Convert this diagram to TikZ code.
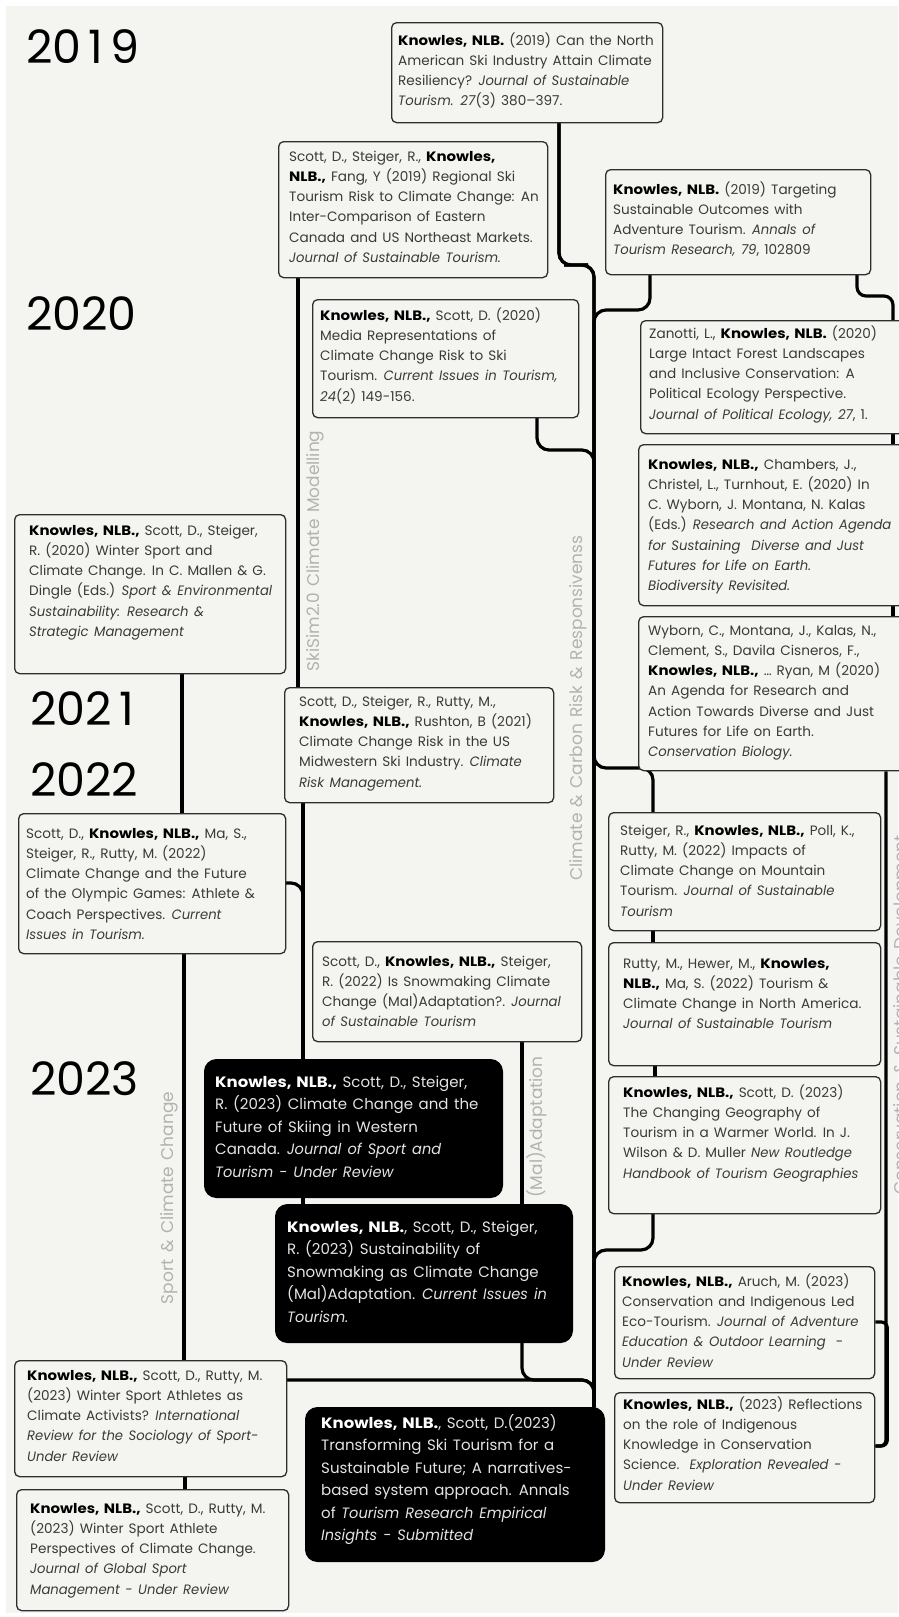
\documentclass[tikz,border=0pt]{standalone}
\usepackage{fontspec}
\setmainfont{Poppins}[WordSpace=1.4, BoldFeatures={FakeStretch=1.1}, ItalicFeatures={FakeStretch=0.97}]
\usetikzlibrary{calc}
\definecolor{bgc}{HTML}{F4F4F0}
\definecolor{boxdraw}{HTML}{2E2E2E}
\definecolor{txt}{HTML}{3A3A3A}
\definecolor{btxt}{HTML}{E4E4E4}
\definecolor{lab}{HTML}{B2B2B2}
\pgfdeclarelayer{back}
\pgfsetlayers{back,main}
\newcommand\kb[1]{\textbf{\color{black}#1}}
\newcommand\kw[1]{\textbf{\color{white}#1}}
\newcommand\yone{\makebox[\fontcharwd\font`0][c]{1}}
\tikzset{
  wbox/.style={draw=boxdraw, line width=1.3pt, fill=bgc, rounded corners=5pt, inner sep=0pt, anchor=north west},
  bbox/.style={draw=black, line width=1pt, fill=black, rounded corners=12pt, inner sep=0pt, anchor=north west},
  wtext/.style={anchor=base west, inner sep=0pt, text=txt, font=\fontsize{13.6}{20.3}\selectfont},
  btext/.style={anchor=base west, inner sep=0pt, text=btxt, font=\fontsize{15}{22.5}\selectfont},
  conn/.style={line width=3.2pt, line cap=round, rounded corners=12pt},
  connr/.style={line width=3.2pt, rounded corners=6pt},
  yearlab/.style={anchor=base west, inner sep=0pt, text=black, font=\fontsize{46}{46}\selectfont},
  topic/.style={rotate=90, text=lab, inner sep=0pt, font=\fontsize{17}{18}\selectfont},
}
\newcommand\wpub[8]{%
  \pgfmathsetmacro\pw{#4-#2}\pgfmathsetmacro\ph{#5-#3}%
  \node[wbox, minimum width=\pw pt, minimum height=\ph pt] (#1) at (#2,#3) {};
  \node[wtext] (#1t) at (#6,#7) {\parbox[t]{300pt}{\raggedright #8}};
}
\newcommand\bpub[8]{%
  \pgfmathsetmacro\pw{#4-#2}\pgfmathsetmacro\ph{#5-#3}%
  \node[bbox, minimum width=\pw pt, minimum height=\ph pt] (#1) at (#2,#3) {};
  \node[btext] (#1t) at (#6,#7) {\parbox[t]{320pt}{\raggedright #8}};
}
\begin{document}
\begin{tikzpicture}[x=1pt,y=-1pt]
\useasboundingbox (0,0) rectangle (898,1617);

% years
\node[yearlab] (y2019) at (26,63) {20\yone9};
\node[yearlab] (y2020) at (26,330) {2020};
\node[yearlab] (y2021) at (30,725) {202\yone};
\node[yearlab] (y2022) at (30,796) {2022};
\node[yearlab] (y2023) at (30,1095) {2023};

% topic labels
\node[topic] (lab1) at (315,551) {SkiSim2.0 Climate Modelling};
\node[topic] (lab2) at (578,708) {Climate \& Carbon Risk \& Responsivenss};
\node[topic] (lab3) at (537,1127) {(Mal)Adaptation};
\node[topic] (lab4) at (169,1198) {Sport \& Climate Change};
\node[topic] (lab5) at (902,1015) {Conservation \& Sustainable Development};

% publications
\wpub{A}{391}{22}{662}{122}{398}{45}{\kb{Knowles, NLB.} (2019) Can the North\\American Ski Industry Attain Climate\\Resiliency? \textit{Journal of Sustainable}\\\textit{Tourism. 27}(3) 380–397.}
\wpub{B}{278}{141}{547}{277}{289}{161}{Scott, D., Steiger, R.,\ \kb{Knowles,}\\\kb{NLB.,} Fang, Y (2019) Regional Ski\\Tourism Risk to Climate Change: An\\Inter-Comparison of Eastern\\Canada and US Northeast Markets.\\\textit{Journal of Sustainable Tourism.}}
\wpub{C}{605}{169}{870}{274}{613}{194}{\kb{Knowles, NLB.} (2019) Targeting\\Sustainable Outcomes with\\Adventure Tourism. \textit{Annals of}\\\textit{Tourism Research, 79}, 102809}
\wpub{D}{312}{299}{578}{417}{320}{320}{\kb{Knowles, NLB.,} Scott, D. (2020)\\Media Representations of\\Climate Change Risk to Ski\\Tourism. \textit{Current Issues in Tourism,}\\\textit{24}(2) 149-156.}
\wpub{E}{640}{320}{906}{433}{649}{338}{Zanotti, L., \kb{Knowles, NLB.} (2020)\\Large Intact Forest Landscapes\\and Inclusive Conservation: A\\Political Ecology Perspective.\\\textit{Journal of Political Ecology, 27}, 1.}
\wpub{F}{638}{444}{906}{605}{648}{469}{\kb{Knowles, NLB.,} Chambers, J.,\\Christel, L., Turnhout, E. (2020) In\\C. Wyborn, J. Montana, N. Kalas\\(Eds.) \textit{Research and Action Agenda}\\\textit{for Sustaining\ \ Diverse and Just}\\\textit{Futures for Life on Earth.}\\\textit{Biodiversity Revisited.}}
\wpub{G}{638}{616}{906}{770}{648}{635}{Wyborn, C., Montana, J., Kalas, N.,\\Clement, S., Davila Cisneros, F.,\\\kb{Knowles, NLB.,} … Ryan, M (2020)\\An Agenda for Research and\\Action Towards Diverse and Just\\Futures for Life on Earth.\\\textit{Conservation Biology.}}
\wpub{H}{14}{514}{285}{673}{29}{535}{\kb{Knowles, NLB.,} Scott, D., Steiger,\\R. (2020) Winter Sport and\\Climate Change. In C. Mallen \& G.\\Dingle (Eds.) \textit{Sport \& Environmental}\\\textit{Sustainability: Research \&}\\\textit{Strategic Management}}
\wpub{I}{284}{687}{553}{802}{299}{706}{Scott, D., Steiger, R., Rutty, M.,\\\kb{Knowles, NLB.,} Rushton, B (2021)\\Climate Change Risk in the US\\Midwestern Ski Industry. \textit{Climate}\\\textit{Risk Management.}}
\wpub{J}{18}{813}{285}{953}{26}{838}{Scott, D., \kb{Knowles, NLB.,} Ma, S.,\\Steiger, R., Rutty, M. (2022)\\Climate Change and the Future\\of the Olympic Games: Athlete \&\\Coach Perspectives. \textit{Current}\\\textit{Issues in Tourism.}}
\wpub{K}{312}{941}{581}{1041}{322}{966}{Scott, D., \kb{Knowles, NLB.,} Steiger,\\R. (2022) Is Snowmaking Climate\\Change (Mal)Adaptation?. \textit{Journal}\\\textit{of Sustainable Tourism}}
\wpub{L}{608}{812}{880}{930}{620}{835}{Steiger, R., \kb{Knowles, NLB.,} Poll, K.,\\Rutty, M. (2022) Impacts of\\Climate Change on Mountain\\Tourism. \textit{Journal of Sustainable}\\\textit{Tourism}}
\wpub{M}{608}{942}{880}{1065}{623}{968}{Rutty, M., Hewer, M., \kb{Knowles,}\\\kb{NLB.,} Ma, S. (2022) Tourism \&\\Climate Change in North America.\\\textit{Journal of Sustainable Tourism}}
\wpub{N}{608}{1076}{880}{1213}{623}{1097}{\kb{Knowles, NLB.,} Scott, D. (2023)\\The Changing Geography of\\Tourism in a Warmer World. In J.\\Wilson \& D. Muller \textit{New Routledge}\\\textit{Handbook of Tourism Geographies}}
\bpub{O}{204}{1059}{502}{1197}{215}{1087}{\kw{Knowles, NLB.,} Scott, D., Steiger,\\R. (2023) Climate Change and the\\Future of Skiing in Western\\Canada. \textit{Journal of Sport and}\\\textit{Tourism - Under Review}}
\bpub{P}{275}{1204}{572}{1342}{287}{1232}{\kw{Knowles, NLB.}, Scott, D., Steiger,\\R. (2023) Sustainability of\\Snowmaking as Climate Change\\(Mal)Adaptation. \textit{Current Issues in}\\\textit{Tourism.}}
\wpub{Q}{14}{1360}{286}{1476}{27}{1380}{\kb{Knowles, NLB.,} Scott, D., Rutty, M.\\(2023) Winter Sport Athletes as\\Climate Activists? \textit{International}\\\textit{Review for the Sociology of Sport-}\\\textit{Under Review}}
\wpub{R}{16}{1489}{288}{1610}{30}{1513}{\kb{Knowles, NLB.,} Scott, D., Rutty, M.\\(2023) Winter Sport Athlete\\Perspectives of Climate Change.\\\textit{Journal of Global Sport}\\\textit{Management - Under Review}}
\bpub{S}{305}{1407}{604}{1561}{321}{1428}{\kw{Knowles, NLB.}, Scott, D.(2023)\\Transforming Ski Tourism for a\\Sustainable Future; A narratives-\\based system approach. Annals\\of \textit{Tourism Research Empirical}\\\textit{Insights - Submitted}}
\wpub{T}{614}{1266}{874}{1378}{622}{1286}{\kb{Knowles, NLB.,} Aruch, M. (2023)\\Conservation and Indigenous Led\\Eco-Tourism. \textit{Journal of Adventure}\\\textit{Education \& Outdoor Learning}\ \ -\\\textit{Under Review}}
\wpub{U}{614}{1392}{874}{1502}{623}{1409}{\kb{Knowles, NLB.,} (2023) Reflections\\on the role of Indigenous\\Knowledge in Conservation\\Science.\ \ \textit{Exploration Revealed -}\\\textit{Under Review}}

\begin{pgfonlayer}{back}
\fill[white] (0,0) rectangle (898,1617);
\fill[bgc] (6,6) rectangle (898,1613);
% main spine and its branches
\draw[conn] ([xshift=168pt]A.south west) |- (576,265) -| ([xshift=289pt]S.north west);
\draw[conn] ([xshift=168pt]A.south west) |- (576,265) -| (594,700) |- (620,768) -| ([xshift=45pt]L.north west);
\draw[conn] ([xshift=45pt]C.south west) |- (620,310) -| ([xshift=289pt]S.north west);
\draw[conn] ([xshift=225pt]D.south west) |- (560,450) -| ([xshift=289pt]S.north west);
\draw[conn] ([xshift=45pt]N.south west) |- (620,1250) -| ([xshift=289pt]S.north west);
\draw[conn] ([xshift=247pt]P.south west) |- (560,1380) -| ([xshift=289pt]S.north west);
\draw[conn] ([yshift=-20pt]Q.north east) -| ([xshift=289pt]S.north west);
% SkiSim line
\draw[conn] ([xshift=20pt]B.south west) -- ([xshift=14pt]I.north west);
\draw[conn] ([xshift=19pt]I.south west) -- ([xshift=99pt]O.north west);
\draw[conn] ([xshift=99pt]O.south west) -- ([xshift=28pt]P.north west);
\draw[conn] ([yshift=-70pt]J.north east) -| ([xshift=99pt]O.north west);
% (Mal)Adaptation
\draw[conn] ([xshift=210pt]K.south west) -- ([xshift=247pt]P.north west);
% Sport & Climate Change
\draw[conn] ([xshift=168pt]H.south west) -- ([xshift=164pt]J.north west);
\draw[conn] ([xshift=166pt]J.south west) -- ([xshift=170pt]Q.north west);
\draw[conn] ([xshift=171pt]Q.south west) -- ([xshift=169pt]R.north west);
% right column
\draw[conn] ([xshift=45pt]L.south west) -- ([xshift=45pt]M.north west);
\draw[conn] ([xshift=47pt]M.south west) -- ([xshift=47pt]N.north west);
\draw[conn, rounded corners=9pt] ([xshift=252pt]C.south west) |- (875,296) -| ([xshift=253pt]E.north west);
\draw[conn] ([xshift=253pt]E.south west) -- ([xshift=255pt]F.north west);
\draw[conn] ([xshift=255pt]F.south west) -- ([xshift=255pt]G.north west);
\draw[connr] ([xshift=248pt]G.south west) |- ([yshift=-54pt]U.north east);
\draw[connr] ([yshift=-56pt]T.north east) -- ++(12,0) |- ([yshift=-54pt]U.north east);
\end{pgfonlayer}
\end{tikzpicture}
\end{document}
